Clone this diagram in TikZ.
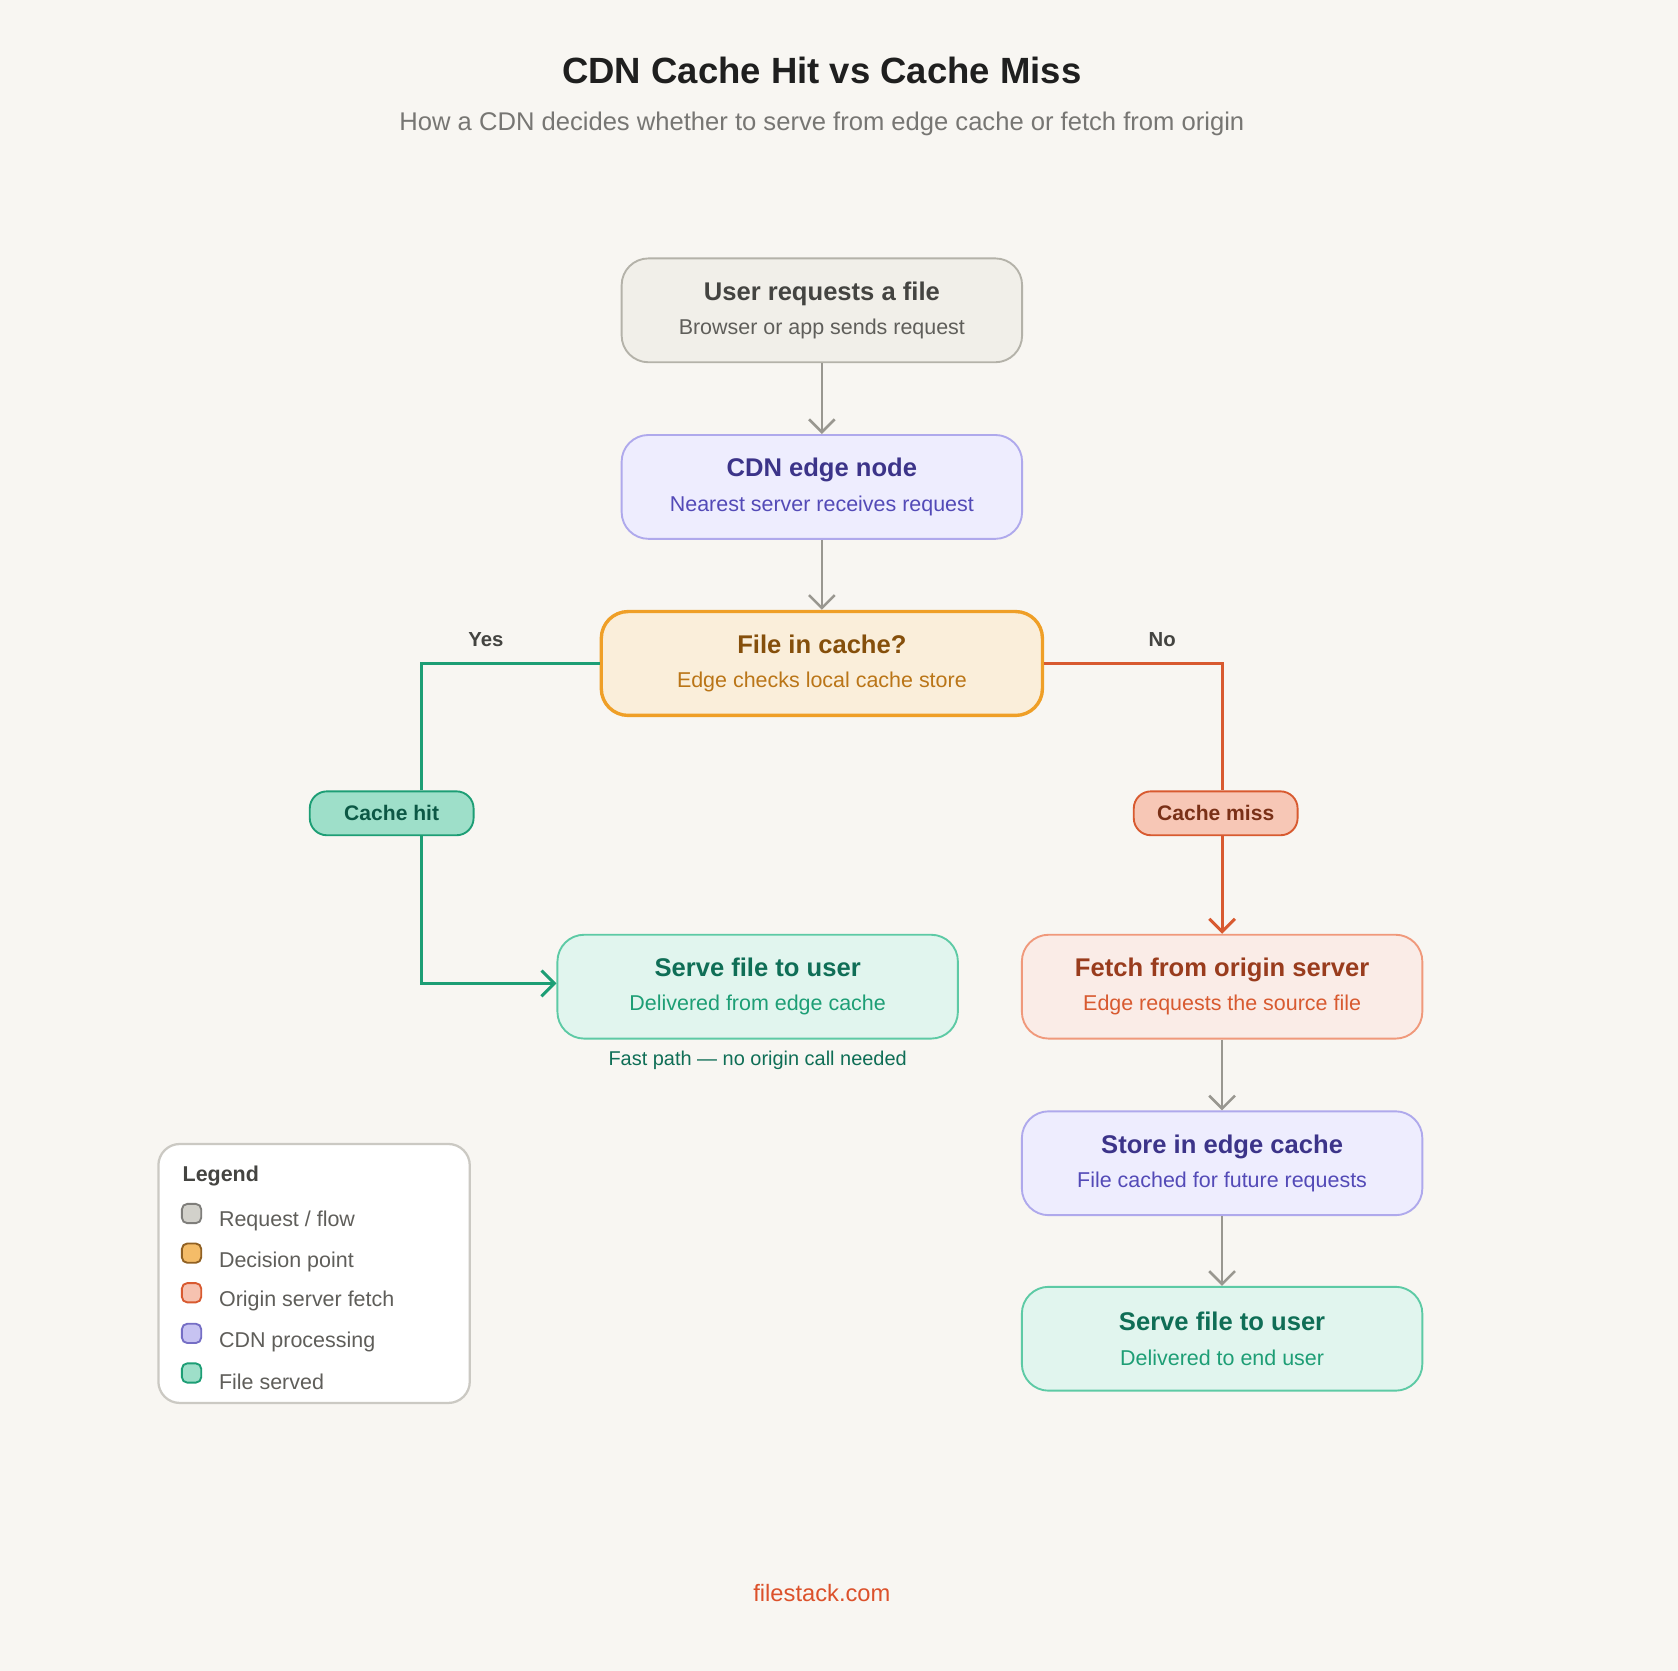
\documentclass[tikz,border=0pt]{standalone}
\usepackage{fontspec}
\setmainfont{Liberation Sans}
\usepackage{tikz}
\usetikzlibrary{arrows.meta, positioning}
\definecolor{bgPaper}{HTML}{F8F6F2}
\definecolor{reqFill}{HTML}{F1EFE9}
\definecolor{reqLine}{HTML}{B4B2A9}
\definecolor{reqText}{HTML}{444441}
\definecolor{reqSub}{HTML}{5F5E5A}
\definecolor{cdnFill}{HTML}{EEEDFE}
\definecolor{cdnLine}{HTML}{AFA9EC}
\definecolor{cdnText}{HTML}{3C3489}
\definecolor{cdnSub}{HTML}{534AB7}
\definecolor{decFill}{HTML}{FAEEDA}
\definecolor{decLine}{HTML}{EF9F27}
\definecolor{decText}{HTML}{854F0B}
\definecolor{decSub}{HTML}{BA7517}
\definecolor{orgFill}{HTML}{FAECE7}
\definecolor{orgLine}{HTML}{F0997B}
\definecolor{orgText}{HTML}{993C1D}
\definecolor{orgSub}{HTML}{D85A30}
\definecolor{srvFill}{HTML}{E1F5EE}
\definecolor{srvLine}{HTML}{5DCAA5}
\definecolor{srvText}{HTML}{0F6E56}
\definecolor{srvSub}{HTML}{1D9E75}
\newcommand{\boxtxt}[3]{{\color{#1}\fontsize{6.8}{9.1}\selectfont\bfseries #2}\\{\fontsize{5.7}{9.1}\selectfont #3}}

\begin{document}
\begin{tikzpicture}[x=0.01cm, y=-0.01cm,
    every node/.style={inner sep=0pt},
    flowbox/.style={draw, rounded corners=2.5mm, line width=0.5pt, minimum width=3.74cm, minimum height=0.97cm, align=center, font=\fontsize{5.7}{9.1}\selectfont},
    pill/.style={draw, rounded corners=1.6mm, line width=0.5pt, minimum width=1.53cm, minimum height=0.41cm, font=\fontsize{5.6}{7}\selectfont\bfseries},
    flow/.style={-{Straight Barb[length=1.2mm, width=2.4mm]}, draw=reqLine!85!black, line width=0.7pt},
    swatch/.style={draw, rounded corners=0.5mm, minimum size=0.18cm, line width=0.5pt},
    legtxt/.style={anchor=west, text=reqSub, font=\fontsize{5.7}{7}\selectfont},
]
\fill[bgPaper] (0,0) rectangle (1568,1561);
\useasboundingbox (0,0) rectangle (1568,1561);

% titles
\node (title) at (768,66) {\fontsize{9.7}{11}\selectfont\bfseries\color{black!88} CDN Cache Hit vs Cache Miss};
\node (subtitle) at (768,116) {\fontsize{6.8}{8}\selectfont\color{reqSub!85} How a CDN decides whether to serve from edge cache or fetch from origin};

% main flow
\node[flowbox, fill=reqFill, draw=reqLine, text=reqSub] (user) at (768,290) {\boxtxt{reqText}{User requests a file}{Browser or app sends request}};
\node[flowbox, fill=cdnFill, draw=cdnLine, text=cdnSub] (edge) at (768,455) {\boxtxt{cdnText}{CDN edge node}{Nearest server receives request}};
\node[flowbox, fill=decFill, draw=decLine, text=decSub, line width=0.9pt, minimum width=4.12cm] (check) at (768,620) {\boxtxt{decText}{File in cache?}{Edge checks local cache store}};
\node[flowbox, fill=srvFill, draw=srvLine, text=srvSub] (serveA) at (708,922) {\boxtxt{srvText}{Serve file to user}{Delivered from edge cache}};
\node[flowbox, fill=orgFill, draw=orgLine, text=orgSub] (fetch) at (1142,922) {\boxtxt{orgText}{Fetch from origin server}{Edge requests the source file}};
\node[flowbox, fill=cdnFill, draw=cdnLine, text=cdnSub] (store) at (1142,1087) {\boxtxt{cdnText}{Store in edge cache}{File cached for future requests}};
\node[flowbox, fill=srvFill, draw=srvLine, text=srvSub] (serveB) at (1142,1251) {\boxtxt{srvText}{Serve file to user}{Delivered to end user}};
\node[text=srvText, font=\fontsize{5.3}{7}\selectfont] (fast) at (708,991) {Fast path — no origin call needed};

% branches
\node[pill, fill=srvLine!60, draw=srvSub, text=srvText!80!black] (hit) at (366,760) {Cache hit};
\node[pill, fill=orgLine!55, draw=orgSub, text=orgText!80!black] (miss) at (1136,760) {Cache miss};
\coordinate (yesTurn) at (394,620);
\coordinate (hitTurn) at (394,919);
\coordinate (noTurn) at (1142,620);

\draw[flow] (user) -- (edge);
\draw[flow] (edge) -- (check);
\draw[srvSub, line width=0.8pt] (check.west) -- (yesTurn) -- (yesTurn |- hit.north);
\draw[srvSub, line width=0.8pt, -{Straight Barb[length=1.2mm, width=2.4mm]}] (yesTurn |- hit.south) -- (hitTurn) -- (serveA.west |- hitTurn);
\draw[orgSub, line width=0.8pt] (check.east) -- (noTurn) -- (noTurn |- miss.north);
\draw[orgSub, line width=0.8pt, -{Straight Barb[length=1.2mm, width=2.4mm]}] (noTurn |- miss.south) -- (fetch.north);
\draw[flow] (fetch) -- (store);
\draw[flow] (store) -- (serveB);
\node[text=reqText, font=\fontsize{5.4}{7}\selectfont\bfseries] (yes) at (454,598) {Yes};
\node[text=reqText, font=\fontsize{5.4}{7}\selectfont\bfseries] (no) at (1086,598) {No};

% legend
\draw[fill=white, draw=reqLine!70, rounded corners=2mm, line width=0.6pt] (148,1069) rectangle (439,1311);
\node[anchor=west, text=reqText, font=\fontsize{5.7}{7}\selectfont\bfseries] (legend) at (170,1099) {Legend};
\node[swatch, fill=reqLine!60, draw=reqSub!80] (sw1) at (179,1134) {};
\node[legtxt] at (204,1141) {Request / flow};
\node[swatch, fill=decLine!70, draw=decText!90] (sw2) at (179,1171) {};
\node[legtxt] at (204,1179) {Decision point};
\node[swatch, fill=orgLine!60, draw=orgSub] (sw3) at (179,1208) {};
\node[legtxt] at (204,1216) {Origin server fetch};
\node[swatch, fill=cdnLine!70, draw=cdnSub!80] (sw4) at (179,1246) {};
\node[legtxt] at (204,1254) {CDN processing};
\node[swatch, fill=srvLine!60, draw=srvSub] (sw5) at (179,1283) {};
\node[legtxt] at (204,1291) {File served};

\node[text=orgSub!90!red, font=\fontsize{6.3}{8}\selectfont] (brand) at (768,1489) {filestack.com};
\end{tikzpicture}
\end{document}
